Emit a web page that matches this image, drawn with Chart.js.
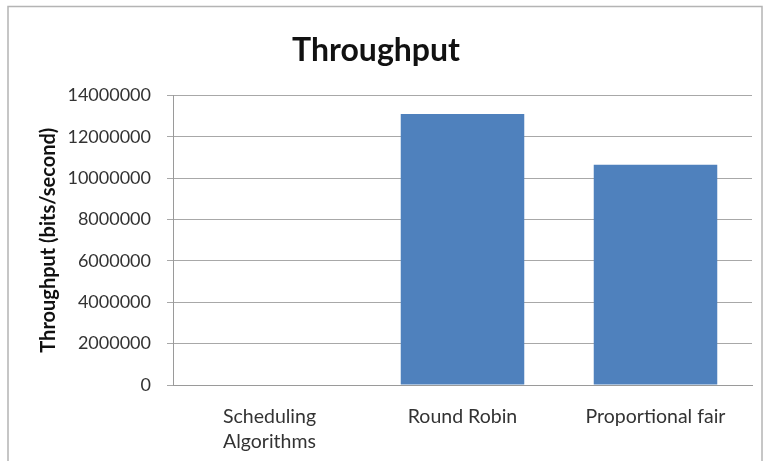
<!DOCTYPE html>
<html>
<head>
<meta charset="utf-8">
<script src="https://cdn.jsdelivr.net/npm/chart.js@4/dist/chart.umd.min.js"></script>
<style>
  html, body { margin: 0; padding: 0; background: #fff; }
  #wrap { position: relative; width: 764px; height: 461px; }
</style>
</head>
<body>
<div id="wrap"><canvas id="myChart" width="764" height="461"></canvas></div>
<script>
var categories = [["Scheduling", "Algorithms"], "Round Robin", "Proportional fair"]
var throughput = [null, 13100000, 10650000]
var yTicks = [0, 2000000, 4000000, 6000000, 8000000, 10000000, 12000000, 14000000]

// thin grey frame around the whole chart
var framePlugin = {
  id: "frame",
  beforeDraw: function(chart) {
    var ctx = chart.ctx
    ctx.save()
    ctx.strokeStyle = "#b4b4b4"
    ctx.lineWidth = 1.5
    ctx.strokeRect(8, 6.5, 754, 470)
    ctx.restore()
  }
}

main()

function main() {
  var ctx = document.getElementById("myChart")
  new Chart(ctx, {
    type: "bar",
    data: {
      labels: categories,
      datasets: [{
        label: "Throughput",
        data: throughput,
        backgroundColor: "#4f81bd",
        borderWidth: 0,
        categoryPercentage: 1,
        barPercentage: 0.64
      }]
    },
    options: {
      responsive: false,
      animation: false,
      layout: { padding: { left: 0, right: 12, top: 0, bottom: 0 } },
      plugins: {
        legend: { display: false },
        tooltip: { enabled: false },
        title: {
          display: true,
          text: "Throughput",
          color: "#111",
          font: { family: "Lato", size: 32, weight: "bold" },
          padding: { top: 31, bottom: 26 }
        }
      },
      scales: {
        x: {
          grid: { display: false },
          border: { display: true, color: "#9a9a9a", width: 1 },
          ticks: {
            color: "#333",
            font: { family: "Lato", size: 19.5, lineHeight: 1.28 },
            padding: 11,
            maxRotation: 0
          },
          afterFit: function(scale) { scale.height = 76 }
        },
        y: {
          min: 0,
          max: 14000000,
          afterBuildTicks: function(scale) {
            scale.ticks = yTicks.map(function(v) { return { value: v } })
          },
          grid: { color: "#a8a8a8", lineWidth: 1, drawTicks: true, tickLength: 6 },
          border: { display: true, color: "#9a9a9a", width: 1 },
          ticks: {
            color: "#333",
            font: { family: "Lato", size: 18 },
            padding: 16,
            callback: function(v) { return String(v) }
          },
          title: {
            display: true,
            text: "Throughput (bits/second)",
            color: "#111",
            font: { family: "Lato", size: 20, weight: "bold" },
            padding: { top: 37, bottom: 0 }
          },
          afterFit: function(scale) { scale.width = 173 }
        }
      }
    },
    plugins: [framePlugin]
  })
}
</script>
</body>
</html>
